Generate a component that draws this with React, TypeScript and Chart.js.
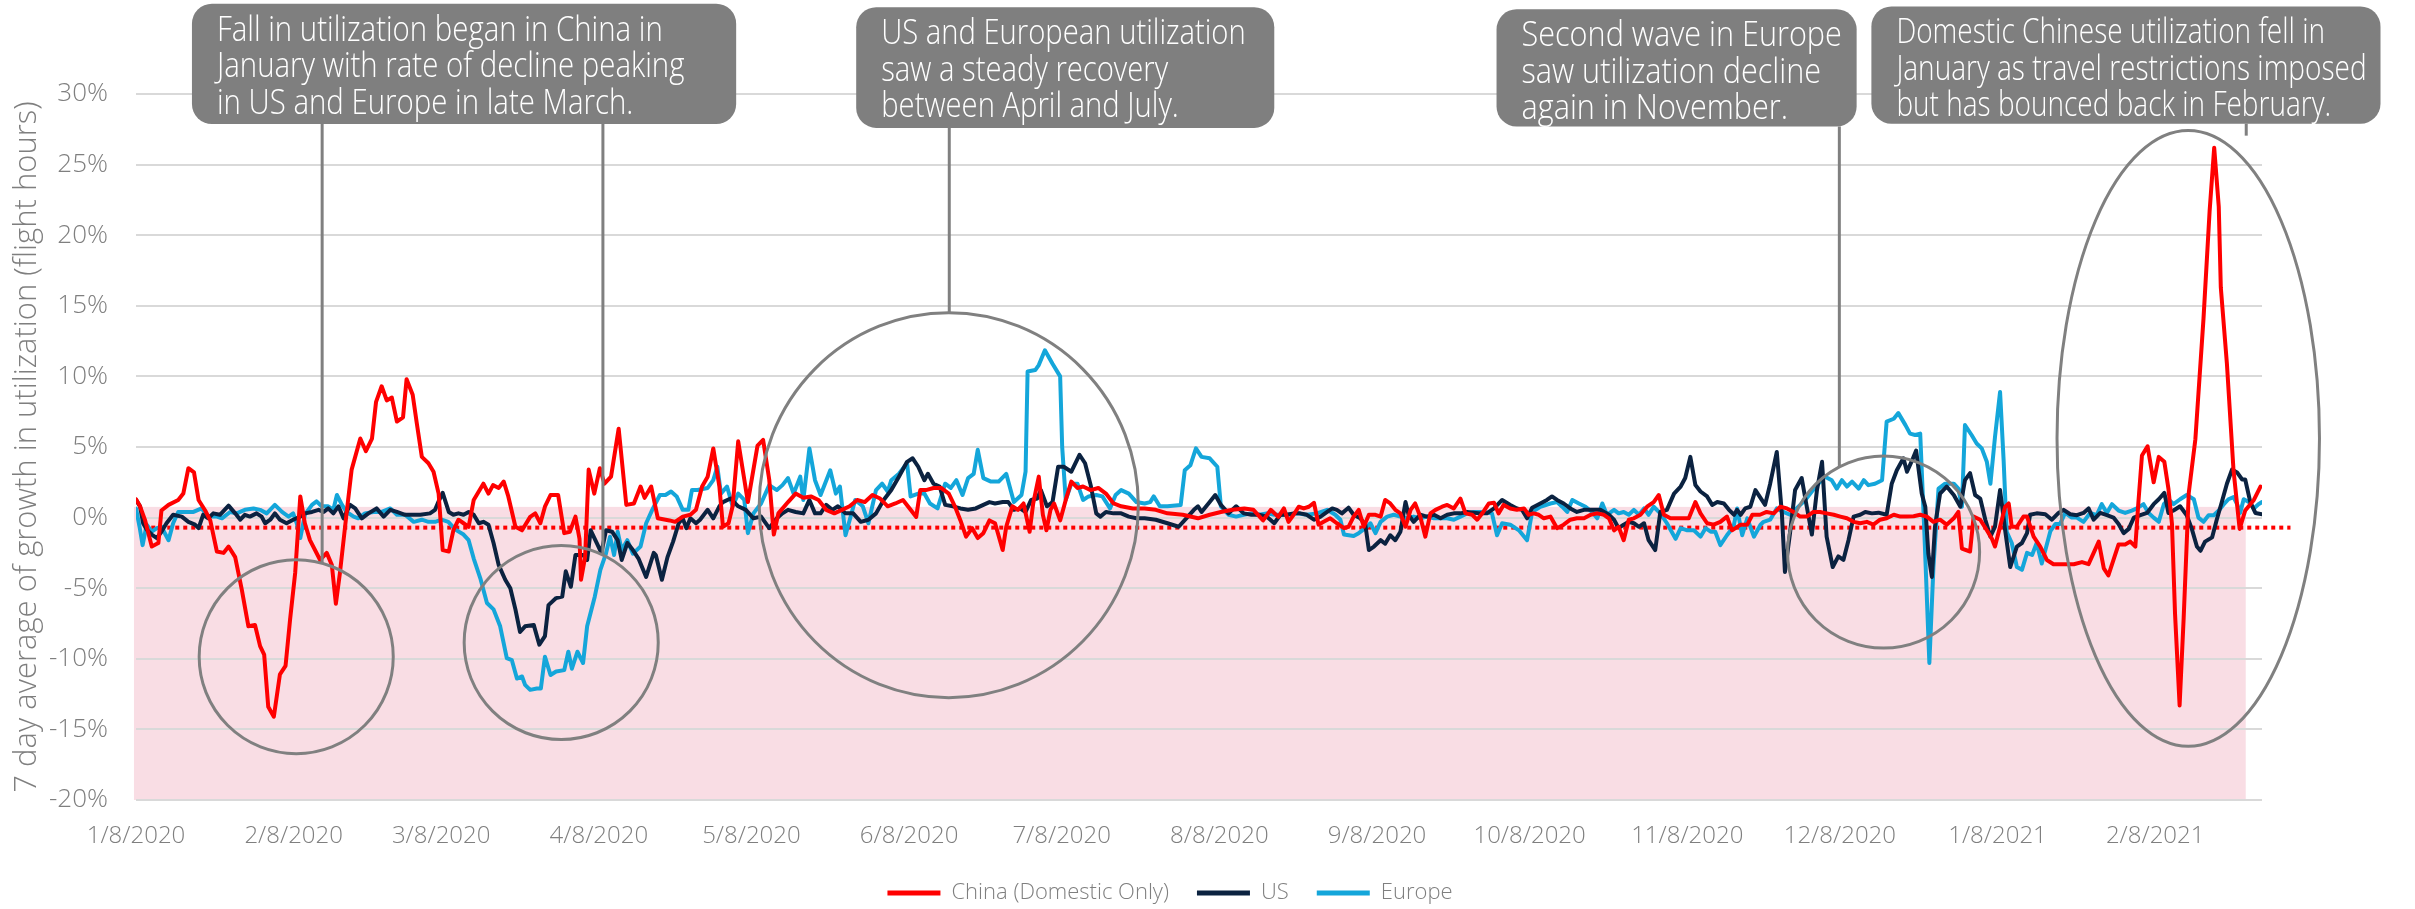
import React, { useEffect, useRef } from 'react';
import { Chart, registerables } from 'chart.js';

Chart.register(...registerables);

// ---------- data (x = days since 1/8/2020, y = 7 day average growth in %) ----------
const tickDays = [0, 31, 60, 91, 121, 152, 182, 213, 244, 274, 305, 335, 366, 397];
const tickLabels = ['1/8/2020', '2/8/2020', '3/8/2020', '4/8/2020', '5/8/2020', '6/8/2020', '7/8/2020', '8/8/2020', '9/8/2020', '10/8/2020', '11/8/2020', '12/8/2020', '1/8/2021', '2/8/2021'];
const seriesNames = ['China (Domestic Only)', 'US', 'Europe'];

const china: number[][] = [
  [0,1.3],[0.8,0.8],[1.8,-0.2],[3.1,-2.05],[4.4,-1.8],[5,0.5],[6.4,0.9],[8.3,1.25],[9.3,1.7],[10.3,3.5],[11.4,3.2],[12.3,1.25],[13.6,0.5],[14.6,-0.2],[15.9,-2.4],[17.2,-2.5],[18.2,-2.05],[19.5,-2.8],[20.8,-5.1],[22.1,-7.7],[23.4,-7.6],[24.4,-9.1],[25.2,-9.7],[26,-13.4],[27.1,-14.1],[28.3,-11.1],[29.4,-10.5],[30.3,-7.2],[31.3,-3.9],[32.3,1.5],[33.2,-0.4],[34.2,-1.6],[36.2,-3.0],[37.5,-2.5],[38.5,-3.35],[39.3,-6.1],[40.1,-3.9],[41.4,0.3],[42.4,3.4],[44.1,5.6],[45.2,4.7],[46.4,5.6],[47.2,8.2],[48.3,9.3],[49.3,8.3],[50.3,8.5],[51.3,6.8],[52.5,7.1],[53.2,9.8],[54.4,8.7],[55.2,6.7],[56.2,4.3],[57.5,3.85],[58.5,3.25],[59.5,1.7],[60.3,-2.3],[61.5,-2.4],[62.4,-0.9],[63.4,-0.15],[64.4,-0.4],[65.4,-0.65],[66.4,1.25],[68.3,2.4],[69.3,1.7],[70.2,2.3],[71.3,2.1],[72.3,2.55],[73.2,1.5],[74.6,-0.65],[75.9,-0.9],[77.5,0.05],[78.5,0.3],[79.5,-0.4],
  [80.4,0.77],[81.5,1.6],[83,1.6],[84.2,-1.1],[85.3,-1.0],[86.4,0.07],[87.2,-1.5],[87.5,-4.4],[88.3,-2.8],[89,3.4],[90.1,1.7],[91.2,3.5],[92.1,2.4],[93.4,2.9],[94.9,6.3],[96.4,0.9],[97.9,1.0],[99.2,2.2],[100,1.4],[101.3,2.2],[102.6,-0.05],[104.9,-0.2],[106,-0.3],[107.5,0.07],[109,0.2],[110.1,0.55],[111.3,2.2],[112.4,2.9],[113.5,4.9],[114.7,2.2],[115.4,-0.65],[116.5,-0.4],[117.3,0.8],[118.4,5.4],[119.6,2.7],[120.3,1.1],[122.2,5.1],[123.3,5.5],[124.5,2.7],[125.4,-1.2],[126.3,0.3],[128.2,1.1],[129.7,1.7],[131.2,1.4],[132.7,1.5],[134.2,1.25],[135.7,0.55],[137.3,0.3],[138.8,0.55],[140.3,0.8],[141.8,1.25],[143.3,1.1],[144.8,1.6],[146.3,1.35],[147.8,0.8],[149.3,1.0],[150.8,1.25],[152.3,0.55],[153.4,0.05],[154.2,1.95],[155.3,1.95],[156.8,2.1],[158.3,2.1],[159.8,1.7],
  [161,0.8],[162.1,-0.2],[163.2,-1.35],[164.4,-0.75],[165.5,-1.45],[166.6,-1.1],[167.8,-0.2],[168.9,-0.4],[170.4,-2.3],[171.1,-0.65],[172.3,0.8],[173.4,0.55],[174.5,1.0],[175.7,-1.0],[176.4,1.0],[177.5,2.9],[178.3,0.2],[179,-0.9],[179.8,0.55],[180.5,1.0],[181.7,-0.2],[182.8,1.25],[183.9,2.55],[185.1,2.1],[186.2,2.2],[187.7,1.95],[189.2,2.1],[190.7,1.7],[192.2,1.0],[193.7,0.8],[196,0.65],[198.3,0.65],[200.5,0.55],[202.8,0.3],[205.8,0.2],[208.8,-0.05],[211.1,0.2],[213.3,0.4],[215.6,0.55],[217.9,0.65],[219.7,0.55],[221.6,-0.2],[223.1,0.55],[224.6,0.05],[225.7,0.65],[226.6,-0.3],[227.6,0.2],[228.6,0.77],[229.6,0.65],[230.6,0.77],[231.6,1.05],[232.5,-0.5],[233.5,-0.3],[234.8,-0.05],[236.1,-0.4],[237.5,-0.75],[238.4,-0.65],[239.4,0.07],
  [240.4,0.55],[241.4,-0.65],[242.4,0.2],[243.7,0.2],[244.7,0.07],[245.6,1.25],[246.6,1.0],[247.6,0.55],[248.6,0.3],[249.6,-0.65],[250.6,0.55],[251.5,1.0],[252.5,0.07],[253.5,-1.35],[254.5,0.3],[255.5,0.55],[256.8,0.77],[257.8,0.9],[259.1,0.65],[260.4,1.35],[261.4,0.3],[262.7,0.2],[263.7,-0.15],[264.7,0.3],[266,1.0],[267,1.05],[267.9,0.3],[268.9,0.9],[270.2,0.65],[271.5,0.55],[272.9,0.65],[273.8,0.2],[274.8,0.3],[275.8,0.2],[276.8,-0.05],[278.1,0.07],[279.4,-0.75],[280.7,-0.5],[282,-0.15],[283.3,-0.05],[284.7,-0.05],[286,0.2],[287.3,0.3],[288.6,0.2],[289.6,-0.05],[290.6,-0.9],[291.5,-0.65],[292.5,-1.6],[293.5,-0.15],[294.5,-0.05],[295.8,0.2],[297.1,0.77],[298.4,1.1],[299.4,1.6],[300.4,0.2],[301.7,-0.05],[303.7,-0.05],[305.3,-0.05],[306.6,1.1],[307.6,0.3],[308.9,-0.4],[310.2,-0.5],[311.5,-0.3],[312.8,0.07],[313.8,-0.9],[315.5,-0.5],[316.8,-0.5],[317.8,0.2],
  [319.3,0.2],[320.6,0.4],[322,0.3],[323.3,0.77],[324.6,0.65],[325.9,0.4],[327.2,0.07],[328.5,0.07],[329.8,0.4],[331.1,0.4],[332.4,0.3],[333.8,0.2],[335.1,0.07],[336.4,-0.05],[337.7,-0.3],[339,-0.4],[340.3,-0.3],[341.6,-0.5],[342.9,-0.15],[344.2,-0.05],[345.6,0.2],[346.9,0.07],[348.2,0.07],[349.5,0.1],[350.8,0.2],[352.1,0.07],[353.4,-0.3],[354.7,-0.15],[356,-0.5],[357.4,-0.05],[358.3,0.4],[359,-2.2],[360.6,-2.4],[361.3,0.07],[362.6,-0.15],[363.9,-0.9],[364.9,-1.5],[365.5,-2.05],[366.5,-0.65],[367.5,0.77],[368.2,1.0],[368.8,-0.65],[369.8,-0.65],[371.1,0.07],[371.8,0.07],[373.1,-1.35],[374.4,-2.05],[375.7,-3.0],[377,-3.3],[378.3,-3.3],[379.6,-3.3],[381,-3.3],[382.6,-3.15],[383.9,-3.3],[384.9,-2.5],[385.9,-1.7],[386.9,-3.6],[387.8,-4.1],[388.8,-3.0],[389.8,-1.9],[391.1,-1.9],[392.1,-1.7],[393.1,-2.05],[393.7,1.1],[394.4,4.4],[395.5,5.05],[396.7,2.5],[397.7,4.3],[398.8,3.95],[399.6,2.05],[400.3,-0.45],[400.9,-6.8],[401.8,-13.3],[402.6,-7.1],[403.6,1.75],[404.9,5.55],[406.5,14.1],[407.7,21.7],[408.6,26.2],[409.5,22.0],[409.9,16.3],[411.1,10.9],[412.4,3.35],[413.6,-0.8],[414.7,0.5],[416.4,1.25],[417.7,2.2]
];

const us: number[][] = [
  [0,1.25],[0.8,0.8],[1.4,-0.4],[2.1,-0.85],[3.1,-1.2],[4.1,-1.45],[5,-1.0],[6,-0.4],[7.3,0.2],[9,0.07],[10.3,-0.3],[11.6,-0.5],[12.3,-0.75],[13.2,0.2],[14.2,-0.05],[15.2,0.3],[16.5,0.2],[18.2,0.85],[19.5,0.3],[20.5,-0.15],[21.4,0.2],[22.4,0.07],[23.7,0.3],[24.7,0.07],[25.4,-0.4],[26.4,-0.15],[27.3,0.3],[28.3,-0.15],[29.6,-0.4],[30.9,-0.15],[32.3,0.07],[33.2,0.3],[34.6,0.4],[35.9,0.55],[36.9,0.4],[37.8,0.65],[38.8,0.3],[39.8,0.8],[40.8,-0.05],[42.1,0.9],[43.1,0.65],[44.4,-0.05],[45.7,0.3],[47.3,0.65],[48.7,0.07],[50,0.55],[51.3,0.4],[52.9,0.2],[54.6,0.2],[55.9,0.2],[57.8,0.3],[58.8,0.55],[59.5,1.15],[60.3,1.75],[61.5,0.4],[62.4,0.2],[63.4,0.3],[64.4,0.2],[65.4,0.4],[66.4,0.2],[67.4,-0.4],[68.3,-0.3],[69.3,-0.5],[70.3,-1.8],[71.3,-3.35],[72.6,-4.4],[73.6,-5.0],[74.6,-6.5],[75.5,-8.1],[76.5,-7.7],[78.2,-7.6],[79.3,-9.0],
  [80.4,-8.4],[81.1,-6.2],[82.6,-5.7],[83.8,-5.6],[84.5,-3.8],[85.5,-4.9],[86.4,-2.65],[87.9,-2.65],[88.7,-3.0],[89.4,-0.9],[90.6,-1.8],[91.5,-2.5],[92.4,-0.9],[93.6,-1.0],[94.7,-1.6],[95.5,-3.0],[96.6,-1.8],[97.7,-2.3],[98.8,-2.9],[100.3,-4.2],[101.8,-2.5],[102.2,-2.65],[103.4,-4.4],[104.5,-2.8],[105.6,-1.7],[106.7,-0.4],[107.5,-0.05],[108.2,-0.75],[109,-0.05],[110.1,-0.4],[110.9,-0.15],[112.4,0.55],[113.5,-0.05],[114.7,0.8],[115.4,1.1],[116.9,1.35],[118.4,0.8],[119.9,0.55],[121.4,-0.05],[122.9,0.07],[124.5,-0.75],[126,-0.05],[127.1,0.3],[128.2,0.55],[129.7,0.4],[131.2,0.3],[132.4,1.25],[133.5,0.3],[134.6,0.3],[135.7,0.9],[136.9,0.55],[138,0.8],[139.5,0.3],[141,0.3],[142.5,-0.3],[144,-0.15],[145.5,0.3],[147,1.25],[148.5,1.95],[150,2.9],[151.6,3.95],[152.7,4.2],[153.8,3.6],[155,2.65],[155.7,3.1],[156.8,2.4],[158,2.2],[159.1,0.9],
  [160.6,0.8],[162.1,0.65],[163.6,0.55],[165.1,0.65],[166.6,0.9],[167.8,1.1],[168.9,1.0],[170.4,1.1],[171.5,1.1],[172.6,0.55],[173.8,0.65],[174.9,0.4],[176,1.25],[177.2,1.35],[177.9,1.95],[179.1,0.8],[180.2,1.1],[181.3,3.6],[182.4,3.6],[183.9,3.25],[185.5,4.45],[186.6,3.85],[187.7,2.3],[188.8,0.3],[189.6,0.07],[190.7,0.4],[192.2,0.3],[193.7,0.3],[195.2,0.07],[196.7,-0.05],[198.3,-0.05],[200.5,-0.15],[202.8,-0.4],[205,-0.65],[206.5,-0.05],[208,0.55],[208.8,0.8],[209.5,0.4],[211.1,1.1],[212.2,1.6],[213.3,0.9],[214.8,0.3],[216.3,0.8],[217.8,0.3],[219.3,0.2],[220.8,0.2],[222.3,0.07],[223.8,-0.4],
  [225,0.2],[226.3,0.2],[227.6,0.3],[228.9,0.3],[230.2,0.2],[231.6,-0.15],[232.9,0.07],[234.2,0.4],[235.2,0.65],[236.1,0.55],[237.1,0.3],[238.4,0.7],[239.4,0.2],[240.7,-0.05],[241.7,-0.5],[242.4,-2.3],[243.4,-2.05],[244.7,-1.6],[245.6,-1.85],[246.6,-1.25],[247.6,-1.6],[248.6,-1.0],[249.6,1.1],[250.2,0.2],[251.2,-0.3],[252.5,0.2],[253.8,0.07],[255.2,0.2],[256.5,-0.05],[257.8,0.2],[259.1,0.3],[260.4,0.3],[261.7,0.4],[263,0.35],[264.3,0.3],[265.6,0.3],[267,0.65],[268.6,1.25],[270.2,0.9],[271.5,0.65],[272.5,0.55],[273.5,-0.05],[274.5,0.7],[276.1,1.0],[277.4,1.25],[278.4,1.5],[279.4,1.25],[280.7,1.0],[282,0.65],[283.3,0.4],[284.7,0.55],[286.3,0.55],[287.9,0.55],[289.6,0.2],[290.6,-0.15],[291.5,-0.75],[292.5,-0.5],[293.5,-0.3],[294.5,-0.4],[295.5,-0.65],[296.5,-0.4],[297.4,-1.6],[298.7,-2.3],[299.7,0.4],[301,0.55],[302.4,1.7],[303.7,2.2],[304.6,2.8],[305.6,4.3],[306.6,2.3],[307.6,1.85],[308.9,1.5],[309.9,0.9],[310.9,1.1],[312.2,1.0],[313.2,0.55],[314.2,0.2],[314.8,0.55],[315.5,0.2],[316.4,0.65],[317.4,0.77],[318.4,1.95],
  [320.3,0.9],[321.3,2.4],[322.6,4.65],[323.6,0.3],[324.2,-3.85],[325.2,-1.1],[326.2,1.95],[327.5,2.8],[328.5,0.77],[329.5,-1.2],[330.5,1.95],[331.5,3.95],[332.4,-1.35],[333.6,-3.5],[334.7,-2.75],[335.7,-3.0],[336.7,-1.6],[337.7,0.07],[339,0.2],[340,0.4],[341.3,0.3],[342.6,0.35],[344.2,0.2],[345.2,2.4],[346.2,3.35],[347.5,4.2],[348.2,3.25],[349.2,4.05],[350,4.75],[351.1,1.7],[351.8,0.77],[352.4,-2.55],[353.1,-4.2],[353.7,-0.65],[354.7,1.7],[356,2.2],[357.4,1.6],[358.7,0.77],[359.6,2.65],[360.6,3.15],[361.6,1.6],[362.6,1.35],[363.6,-0.15],[364.6,-1.35],[365.5,-0.65],[366.5,1.95],[367.5,-0.9],[368.5,-3.5],[369.8,-2.05],[370.8,-1.8],[371.8,-1.1],[372.4,0.2],[373.7,0.3],[375.4,0.24],[376.7,-0.15],[378,0.33],[379,0.55],[380.3,0.24],[381.6,0.17],[382.9,0.33],[383.9,0.65],[384.9,-0.15],[386.2,0.33],[387.5,0.17],[388.8,0.0],[389.8,-0.45],[390.8,-1.1],[391.8,-0.8],[392.8,0.0],[394.1,0.17],[395.4,0.33],[396.7,0.95],[397.7,1.3],[398.8,1.75],[399.6,0.33],[400.6,0.5],[401.9,0.8],[403.2,0.17],[404.2,-0.8],[405.2,-2.05],[405.9,-2.35],[406.8,-1.7],[408.2,-1.4],[409.1,-0.15],[410.1,1.1],[411.1,2.4],[412.1,3.4],[413.1,3.2],[414.1,2.7],[414.7,2.7],[415.7,1.1],[416.7,0.33],[418,0.24]
];

const europe: number[][] = [
  [0,0.65],[0.7,-0.65],[1.3,-1.95],[2.1,-0.5],[3.1,-1.0],[4.1,-0.75],[5,-0.65],[6.4,-1.6],[7.3,-0.4],[8.3,0.4],[10,0.4],[11.3,0.4],[12.9,0.65],[14.2,0.07],[15.9,0.07],[16.9,-0.05],[18.5,0.4],[19.8,0.3],[21.4,0.55],[23.1,0.65],[24.4,0.55],[25.7,0.3],[27.3,0.9],[28.7,0.4],[30,0.07],[30.9,0.3],[31.6,-0.4],[32.3,-1.45],[33.2,0.2],[34.6,0.9],[35.5,1.15],[36.5,0.8],[37.8,0.8],[38.8,0.55],[39.5,1.6],[40.5,0.9],[41.4,0.4],[42.8,0.07],[43.7,-0.05],[45,0.3],[46.7,0.4],[48.3,0.4],[50,0.65],[51.3,0.2],[52.9,0.2],[54.6,-0.3],[56.2,-0.15],[57.5,-0.3],[58.8,-0.3],[60.1,-0.15],[61.4,-0.3],[62.8,-0.85],[64.4,-1.2],[65.4,-1.6],[66.4,-2.9],[67.7,-4.3],[69,-6.05],[70.3,-6.5],[71.6,-7.7],[72.9,-9.95],[73.9,-10.1],[74.9,-11.4],[75.9,-11.25],[76.5,-11.85],[77.5,-12.2],[78.8,-12.1],
  [79.6,-12.1],[80.4,-9.85],[81.5,-11.15],[82.6,-10.9],[84.2,-10.8],[85,-9.5],[85.7,-10.7],[86.8,-9.5],[87.9,-10.3],[88.7,-7.7],[90.2,-5.6],[91.3,-3.7],[92.4,-2.55],[93.2,-1.35],[94,-2.65],[94.7,-1.0],[95.5,-2.3],[96.6,-1.6],[97.7,-2.55],[99.2,-2.05],[100.3,-0.4],[101.5,0.55],[103,1.6],[104.1,1.6],[105.2,1.85],[106.3,1.5],[107.5,0.55],[108.6,0.55],[109.3,1.95],[110.4,1.95],[112.4,2.1],[113.5,2.65],[114.3,3.6],[115,1.7],[116.2,2.2],[117.3,0.8],[118.4,1.7],[119.6,1.25],[120.3,-1.1],[121.4,0.3],[122.9,1.0],[124.5,2.3],[126,1.95],[127.1,2.3],[128.2,2.8],[129.3,1.7],[130.6,2.9],[131.2,1.25],[132.4,4.9],[133.5,2.65],[134.6,1.6],[136.5,3.35],[137.6,1.7],[138.4,2.2],[139.5,-1.25],[141.4,1.25],[142.9,0.8],[144,-0.4],[145.5,1.95],[146.7,2.4],[147.8,1.85],[148.5,2.65],[150,3.1],[151.6,3.85],[152.3,1.5],[153.8,1.7],[155,1.7],[156.1,1.0],[157.6,0.65],[159.1,2.4],
  [160.2,2.1],[161.3,2.65],[162.5,1.6],[163.6,2.8],[164.7,3.1],[165.5,4.8],[166.6,2.8],[168.1,2.55],[169.6,2.55],[171.1,3.1],[172.6,1.1],[174.1,1.6],[174.9,3.25],[175.3,10.35],[176.8,10.45],[177.5,10.8],[178.7,11.85],[180.2,10.9],[181.7,10.0],[182.1,5.0],[182.8,1.25],[183.9,2.4],[185.1,2.4],[186.2,1.25],[187.3,1.5],[188.8,1.6],[190,1.5],[191.5,0.65],[192.6,1.6],[193.7,1.95],[195.2,1.7],[196.7,1.1],[198.3,1.0],[199.4,1.1],[200.1,1.5],[201.3,0.8],[202.8,0.8],[205.4,0.9],[206.2,3.35],[207.3,3.7],[208.4,4.9],[209.5,4.3],[211.1,4.2],[212.6,3.6],[213.3,0.8],[214.8,0.2],[216.3,0.07],[217.8,0.2],[219.3,0.3],[220.8,0.2],[222.3,0.3],[223.8,0.2],
  [225,0.2],[226.3,0.2],[228.3,0.3],[230.2,0.2],[232.2,0.3],[234.2,0.55],[235.8,0.2],[236.8,-0.15],[237.5,-1.2],[239.4,-1.3],[240.4,-1.1],[241.7,-0.75],[242.7,-0.4],[243.7,-1.1],[244.7,-0.3],[246,0.07],[247.3,0.2],[248.6,0.07],[249.9,-0.05],[251.2,0.07],[252.5,-0.05],[253.8,0.07],[255.2,-0.05],[256.5,-0.05],[257.8,-0.05],[259.1,-0.15],[260.4,0.07],[261.7,0.3],[263,0.4],[265,0.4],[266.6,0.3],[267.6,-1.25],[268.6,-0.4],[270.2,-0.5],[271.9,-0.9],[273.5,-1.6],[274.5,0.4],[276.1,0.77],[278.1,1.0],[279.4,1.1],[280.4,0.77],[281.4,0.4],[282.4,1.25],[283.7,1.0],[285,0.77],[286.3,0.4],[287.3,-0.05],[288.3,1.0],[289.2,0.2],[290.6,0.55],[291.5,0.3],[292.5,0.4],[293.5,0.2],[294.5,0.55],[295.5,0.2],[296.5,0.65],[297.4,0.2],[298.4,0.77],[299.7,0.3],[301,-0.4],[302.7,-1.5],[303.7,-0.75],[305,-0.9],[306.3,-0.9],[307.6,-1.35],[308.6,-0.75],[309.6,-1.0],[310.5,-1.0],[311.5,-1.95],[312.8,-1.25],[314.1,-0.65],[314.8,0.65],[315.8,-1.25],[316.8,-0.05],[318.1,-1.35],[319.4,-0.5],
  [320,-0.3],[321.3,-0.15],[322.6,0.65],[323.9,0.4],[325.2,0.2],[326.5,0.65],[328.2,1.25],[329.5,1.85],[330.8,2.4],[332.1,2.9],[333.4,2.65],[334.4,2.05],[335.4,2.65],[336.4,2.2],[337.4,2.55],[338.7,2.05],[339.7,2.65],[340.6,2.3],[341.9,2.4],[343.3,2.65],[344.2,6.8],[345.6,7.0],[346.5,7.4],[347.9,6.55],[348.8,5.95],[349.8,5.85],[350.8,5.95],[351.6,-0.9],[352.6,-10.3],[353.4,-3.5],[354.4,2.05],[355.7,2.4],[357.4,2.4],[358.3,2.05],[359,0.77],[359.6,6.55],[360.9,5.85],[361.9,5.25],[362.9,4.9],[363.9,3.95],[364.6,2.4],[365.5,5.7],[366.5,8.9],[367.2,4.05],[367.8,-1.0],[368.8,-1.8],[369.8,-3.5],[370.8,-3.7],[371.8,-2.5],[372.8,-2.65],[373.7,-1.8],[374.7,-3.25],[376.4,-0.95],[377.4,-0.45],[378.3,-0.45],[379.3,0.33],[380.6,0.0],[381.6,0.0],[382.9,-0.3],[384.2,0.33],[385.5,0.17],[386.5,0.95],[387.5,0.33],[388.5,0.95],[389.8,0.5],[391.1,0.33],[392.4,0.5],[393.4,0.65],[394.7,0.95],[395.7,0.33],[396.7,0.0],[397.7,-0.3],[398.7,0.95],[399.6,1.3],[400.6,0.95],[401.9,1.3],[403.2,1.6],[404.6,1.3],[405.5,0.0],[406.5,-0.3],[407.5,0.17],[408.5,0.17],[409.5,0.5],[410.5,0.95],[411.4,1.3],[412.4,1.45],[413.1,0.95],[413.7,0.33],[414.4,1.3],[415.4,1.1],[416.4,0.65],[417.3,0.95],[418,1.1]
];

// dotted reference level and shaded band (values in axis units)
const referenceLevel = -0.71;
const referenceDays = [3, 423.6];
const bandDays = [-0.4, 414.8];
const bandValues = [-20, 0.76];

// ---------- annotations (positions in axis units: days / percent) ----------
const callouts = [
  { lines: ['Fall in utilization began in China in', 'January with rate of decline peaking', 'in US and Europe in late March.'], d0: 11.0, d1: 118.0, top: 36.4, bottom: 27.87, squeeze: 0.84 },
  { lines: ['US and European utilization', 'saw a steady recovery', 'between April and July.'], d0: 141.6, d1: 223.8, top: 36.15, bottom: 27.6, squeeze: 0.835 },
  { lines: ['Second wave in Europe', 'saw utilization decline', 'again in November.'], d0: 267.5, d1: 338.3, top: 36.0, bottom: 27.7, squeeze: 0.875 },
  { lines: ['Domestic Chinese utilization fell in', 'January as travel restrictions imposed', 'but has bounced back in February.'], d0: 341.2, d1: 441.3, top: 36.2, bottom: 27.9, squeeze: 0.8 },
];
const leaders = [
  { day: 36.6, from: 27.87, to: -3.23 },
  { day: 91.8, from: 27.87, to: -2.66 },
  { day: 159.9, from: 27.6, to: 14.55 },
  { day: 334.9, from: 27.7, to: 3.6 },
  { day: 414.9, from: 27.9, to: 27.05 },
];
const rings = [
  { day: 31.5, value: -9.85, dr: 19.08, vr: 6.87 },
  { day: 83.6, value: -8.85, dr: 19.08, vr: 6.87 },
  { day: 159.8, value: 0.88, dr: 37.27, vr: 13.63 },
  { day: 343.6, value: -2.44, dr: 18.88, vr: 6.8 },
  { day: 403.5, value: 5.61, dr: 25.8, vr: 21.8 },
];

const COLORS = ['#ff0000', '#0b2240', '#14a6da'];
const TEXT_GRAY = '#7f7f7f';
const FONT = "'Open Sans', sans-serif";

export default function App() {
  const ref = useRef<HTMLCanvasElement | null>(null);

  useEffect(() => {
    document.body.style.margin = '0';
    document.body.style.overflow = 'hidden';
    const canvas = ref.current;
    if (!canvas) return;
    Chart.defaults.font.family = FONT;

    const bandPlugin = {
      id: 'band',
      beforeDraw(chart: any) {
        const { ctx } = chart;
        const x = chart.scales.x, y = chart.scales.y;
        const l = x.getPixelForValue(bandDays[0]);
        const r = x.getPixelForValue(bandDays[1]);
        const t = y.getPixelForValue(bandValues[1]);
        const b = y.getPixelForValue(bandValues[0]);
        ctx.save();
        ctx.fillStyle = '#f9dde4';
        ctx.fillRect(l, t, r - l, b - t);
        ctx.restore();
      },
    };

    const annotationPlugin = {
      id: 'annotations',
      afterDatasetsDraw(chart: any) {
        const { ctx } = chart;
        const x = chart.scales.x, y = chart.scales.y;
        ctx.save();
        ctx.strokeStyle = '#808080';
        ctx.lineWidth = 3;
        rings.forEach((r) => {
          const cx = x.getPixelForValue(r.day);
          const cy = y.getPixelForValue(r.value);
          const rx = Math.abs(x.getPixelForValue(r.day + r.dr) - cx);
          const ry = Math.abs(y.getPixelForValue(r.value + r.vr) - cy);
          ctx.beginPath();
          ctx.ellipse(cx, cy, rx, ry, 0, 0, Math.PI * 2);
          ctx.stroke();
        });
        leaders.forEach((l) => {
          const px = x.getPixelForValue(l.day);
          ctx.beginPath();
          ctx.moveTo(px, y.getPixelForValue(l.from));
          ctx.lineTo(px, y.getPixelForValue(l.to));
          ctx.stroke();
        });
        ctx.restore();
      },
      afterDraw(chart: any) {
        const { ctx } = chart;
        const x = chart.scales.x, y = chart.scales.y;
        ctx.save();
        callouts.forEach((c) => {
          const l = x.getPixelForValue(c.d0);
          const r = x.getPixelForValue(c.d1);
          const t = y.getPixelForValue(c.top);
          const b = y.getPixelForValue(c.bottom);
          ctx.fillStyle = '#7f7f7f';
          ctx.beginPath();
          ctx.roundRect(l, t, r - l, b - t, 20);
          ctx.fill();
          ctx.fillStyle = '#ffffff';
          ctx.font = `300 35px ${FONT}`;
          ctx.textBaseline = 'alphabetic';
          ctx.textAlign = 'left';
          c.lines.forEach((s, i) => {
            ctx.save();
            ctx.translate(l + 25, t + 37 + i * 36.5);
            ctx.scale(c.squeeze, 1);
            ctx.fillText(s, 0, 0);
            ctx.restore();
          });
        });
        ctx.restore();
      },
    };

    const seriesData = [china, us, europe];
    const chart = new Chart(canvas, {
      type: 'line',
      data: {
        datasets: [
          ...seriesData.map((pts, i) => ({
            label: seriesNames[i],
            data: pts.map((p) => ({ x: p[0], y: p[1] })),
            borderColor: COLORS[i],
            backgroundColor: COLORS[i],
            borderWidth: 4,
            pointRadius: 0,
            tension: 0,
            borderJoinStyle: 'round' as const,
            borderCapStyle: 'round' as const,
          })),
          {
            label: 'reference',
            data: referenceDays.map((d) => ({ x: d, y: referenceLevel })),
            borderColor: '#ff0000',
            backgroundColor: '#ff0000',
            borderWidth: 4,
            borderDash: [4, 4],
            pointRadius: 0,
            clip: false as any,
            order: 10,
          },
        ],
      },
      options: {
        animation: false,
        responsive: false,
        devicePixelRatio: 1,
        layout: { padding: { top: 94, right: 75, bottom: -5, left: 0 } },
        plugins: {
          tooltip: { enabled: false },
          legend: {
            position: 'bottom',
            labels: {
              boxWidth: 53,
              boxHeight: 5,
              padding: 28,
              color: TEXT_GRAY,
              font: { size: 22, weight: '300' as any },
              filter: (item: any) => item.datasetIndex < 3,
              sort: (a: any, b: any) => a.datasetIndex - b.datasetIndex,
              generateLabels: (ch: any) =>
                Chart.defaults.plugins.legend.labels.generateLabels(ch).map((it: any) => ({ ...it, lineWidth: 0 })),
            },
          },
        },
        scales: {
          x: {
            type: 'linear',
            min: 0,
            max: 418,
            grid: { display: false, drawTicks: false },
            border: { display: false },
            ticks: {
              autoSkip: false,
              maxRotation: 0,
              padding: 22,
              color: TEXT_GRAY,
              font: { size: 24, weight: '300' as any },
              callback: (v: any) => {
                const i = tickDays.indexOf(Number(v));
                return i >= 0 ? tickLabels[i] : '';
              },
            },
            afterBuildTicks: (s: any) => {
              s.ticks = tickDays.map((d) => ({ value: d }));
            },
            afterFit: (s: any) => {
              s.height = 54;
            },
          },
          y: {
            min: -20,
            max: 30,
            grid: { color: '#d9d9d9', lineWidth: 2, drawTicks: false },
            border: { display: false },
            ticks: {
              stepSize: 5,
              padding: 28,
              color: TEXT_GRAY,
              font: { size: 26, weight: '300' as any },
              callback: (v: any) => `${v}%`,
            },
            title: {
              display: true,
              text: '7 day average of growth in utilization (flight hours)',
              color: TEXT_GRAY,
              font: { size: 31, weight: '300' as any },
              padding: { top: 9, bottom: 0 },
            },
            afterFit: (s: any) => {
              s.width = 136;
            },
          },
          y2: {
            position: 'right',
            display: true,
            grid: { display: false, drawOnChartArea: false },
            border: { display: false },
            ticks: { display: false },
            afterFit: (s: any) => {
              s.width = 78;
            },
          },
        },
      },
      plugins: [bandPlugin, annotationPlugin],
    } as any);

    return () => chart.destroy();
  }, []);

  return (
    <div style={{ width: 2415, height: 909 }}>
      <canvas ref={ref} width={2415} height={909} style={{ display: 'block' }} />
    </div>
  );
}
